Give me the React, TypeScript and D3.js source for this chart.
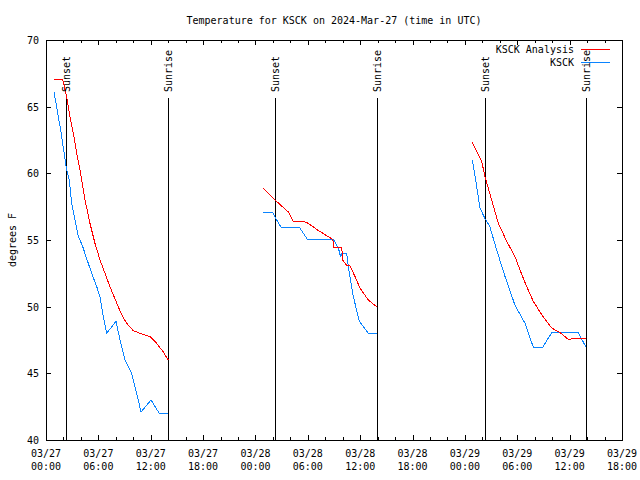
import { useEffect, useRef } from "react"
import * as d3 from "d3"

// hours after 2024-03-27 00:00 UTC
const sunEventHours = [2.29, 14.02, 26.28, 37.97, 50.34, 61.91]
const sunEventLabels = ["Sunset", "Sunrise", "Sunset", "Sunrise", "Sunset", "Sunrise"]

const analysisHours1 = [0.92, 1.92, 2.0, 2.37, 2.75, 3.13, 3.52, 3.9, 4.47, 5.04, 5.61, 6.19, 6.76, 7.33, 8.02, 8.67, 9.25, 10.0, 10.77, 11.92, 12.68, 13.44, 14.01]
const analysisTemps1 = [67.05, 67.05, 66.8, 65.75, 64.25, 63.0, 61.5, 60.25, 58.0, 56.25, 54.75, 53.5, 52.5, 51.5, 50.4, 49.4, 48.75, 48.2, 48.0, 47.75, 47.25, 46.6, 46.0]
const analysisHours2 = [24.9, 26.24, 27.77, 28.34, 29.49, 30.06, 31.0, 31.97, 32.85, 33.0, 33.88, 34.0, 34.45, 34.83, 35.41, 35.98, 36.93, 37.89]
const analysisTemps2 = [58.9, 58.0, 57.1, 56.4, 56.4, 56.25, 55.8, 55.4, 55.05, 54.45, 54.45, 53.5, 53.1, 53.07, 52.25, 51.4, 50.5, 50.0]
const analysisHours3 = [48.85, 49.92, 50.3, 51.07, 51.83, 52.79, 53.74, 54.31, 55.08, 55.84, 56.8, 57.95, 58.9, 59.85, 60.42, 61.88]
const analysisTemps3 = [62.33, 60.9, 59.75, 58.0, 56.25, 54.9, 53.75, 52.75, 51.5, 50.4, 49.4, 48.4, 48.05, 47.55, 47.6, 47.6]

const obsHours1 = [0.92, 1.68, 2.37, 2.67, 2.94, 3.32, 3.7, 4.16, 4.66, 5.24, 5.81, 6.19, 6.57, 6.95, 8.02, 8.48, 9.05, 9.82, 10.39, 10.89, 12.03, 12.98, 14.0]
const obsTemps1 = [66.1, 63.25, 60.25, 59.5, 57.75, 56.5, 55.25, 54.6, 53.6, 52.5, 51.5, 50.75, 49.25, 48.0, 48.9, 47.5, 46.0, 45.0, 43.5, 42.1, 43.0, 42.0, 42.0]
const obsHours2 = [24.9, 25.97, 26.43, 26.93, 29.03, 29.95, 32.93, 33.5, 33.77, 33.88, 34.45, 34.64, 35.22, 35.9, 36.93, 37.97]
const obsTemps2 = [57.08, 57.08, 56.5, 55.95, 55.95, 55.05, 55.05, 54.4, 53.7, 54.0, 54.0, 53.0, 50.75, 48.9, 48.0, 48.0]
const obsHours3 = [48.85, 49.23, 49.73, 50.3, 50.86, 51.64, 52.6, 53.74, 54.89, 55.84, 56.9, 57.95, 61.0, 61.88]
const obsTemps3 = [61.0, 59.5, 57.4, 56.6, 56.0, 54.25, 52.25, 50.1, 48.75, 46.95, 46.95, 48.05, 48.05, 46.95]

const yTicks = [40, 45, 50, 55, 60, 65, 70]

const START = Date.UTC(2024, 2, 27, 0, 0)
const END = Date.UTC(2024, 2, 29, 18, 0)
const toDate = (h: number) => new Date(START + h * 3600 * 1000)

const FONT = "'DejaVu Sans Mono', 'Liberation Mono', monospace"
const RED = "#ff0000"
const BLUE = "#0a84ff"

export default function App() {
  const svgRef = useRef<SVGSVGElement>(null)

  useEffect(() => {
    if (!svgRef.current) return
    const root = d3.select(svgRef.current)
    root.selectAll("*").remove()

    const left = 46, right = 622, top = 40, bottom = 440

    const x = d3.scaleUtc().domain([new Date(START), new Date(END)]).range([left, right])
    const y = d3.scaleLinear().domain([40, 70]).range([bottom, top])

    const svg = root
      .attr("width", 640)
      .attr("height", 480)
      .style("font-family", FONT)
      .style("font-size", "10px")

    svg.append("rect").attr("width", 640).attr("height", 480).attr("fill", "#fff")

    // title
    svg.append("text")
      .attr("x", (left + right) / 2)
      .attr("y", 24)
      .attr("text-anchor", "middle")
      .text("Temperature for KSCK on 2024-Mar-27 (time in UTC)")

    // y label
    svg.append("text")
      .attr("transform", `translate(16,${(top + bottom) / 2}) rotate(-90)`)
      .attr("text-anchor", "middle")
      .text("degrees F")

    const g = svg.append("g").attr("shape-rendering", "crispEdges")

    // x ticks (major 6h, minor 2h), inward on bottom and top
    const minor = d3.utcHour.every(2)!.range(new Date(START), new Date(END + 1))
    minor.forEach((d) => {
      const isMajor = d.getUTCHours() % 6 === 0
      const len = isMajor ? 5 : 3
      const px = Math.round(x(d)) + 0.5
      g.append("line").attr("x1", px).attr("x2", px).attr("y1", bottom).attr("y2", bottom - len).attr("stroke", "#000")
      g.append("line").attr("x1", px).attr("x2", px).attr("y1", top).attr("y2", top + len).attr("stroke", "#000")
    })

    const major = d3.utcHour.every(6)!.range(new Date(START), new Date(END + 1))
    const fmtDay = d3.utcFormat("%m/%d")
    const fmtTime = d3.utcFormat("%H:%M")
    major.forEach((d) => {
      const t = svg.append("text").attr("text-anchor", "middle")
      t.append("tspan").attr("x", x(d)).attr("y", 457).text(fmtDay(d))
      t.append("tspan").attr("x", x(d)).attr("y", 470).text(fmtTime(d))
    })

    // y ticks
    yTicks.forEach((v) => {
      const py = Math.round(y(v)) + 0.5
      g.append("line").attr("x1", left).attr("x2", left + 5).attr("y1", py).attr("y2", py).attr("stroke", "#000")
      g.append("line").attr("x1", right).attr("x2", right - 5).attr("y1", py).attr("y2", py).attr("stroke", "#000")
      svg.append("text")
        .attr("x", 39)
        .attr("y", y(v) + 4)
        .attr("text-anchor", "end")
        .text(v)
    })

    // sunrise / sunset markers
    sunEventHours.forEach((h, i) => {
      const px = Math.round(x(toDate(h))) + 0.5
      g.append("line").attr("x1", px).attr("x2", px).attr("y1", 98).attr("y2", bottom).attr("stroke", "#000")
      svg.append("text")
        .attr("transform", `translate(${px},92) rotate(-90)`)
        .attr("dy", "0.35em")
        .text(sunEventLabels[i])
    })

    const line = d3.line<[number, number]>()
      .x((d) => x(toDate(d[0])))
      .y((d) => y(d[1]))

    const series = [
      { hours: obsHours1, temps: obsTemps1, color: BLUE },
      { hours: obsHours2, temps: obsTemps2, color: BLUE },
      { hours: obsHours3, temps: obsTemps3, color: BLUE },
      { hours: analysisHours1, temps: analysisTemps1, color: RED },
      { hours: analysisHours2, temps: analysisTemps2, color: RED },
      { hours: analysisHours3, temps: analysisTemps3, color: RED },
    ]
    series.forEach((s) => {
      const pts = s.hours.map((h, i) => [h, s.temps[i]] as [number, number])
      g.append("path")
        .attr("d", line(pts))
        .attr("fill", "none")
        .attr("stroke", s.color)
        .attr("stroke-width", 1)
    })

    // legend
    const legend = [
      { label: "KSCK Analysis", color: RED, ly: 49.5 },
      { label: "KSCK", color: BLUE, ly: 62.5 },
    ]
    legend.forEach((l) => {
      svg.append("text").attr("x", 574).attr("y", l.ly + 3.5).attr("text-anchor", "end").text(l.label)
      g.append("line").attr("x1", 581).attr("x2", 610).attr("y1", l.ly).attr("y2", l.ly).attr("stroke", l.color)
    })

    // frame
    g.append("rect")
      .attr("x", left + 0.5)
      .attr("y", top + 0.5)
      .attr("width", right - left)
      .attr("height", bottom - top)
      .attr("fill", "none")
      .attr("stroke", "#000")
  }, [])

  return (
    <svg ref={svgRef} style={{ position: "absolute", left: 0, top: 0, display: "block" }} />
  )
}
